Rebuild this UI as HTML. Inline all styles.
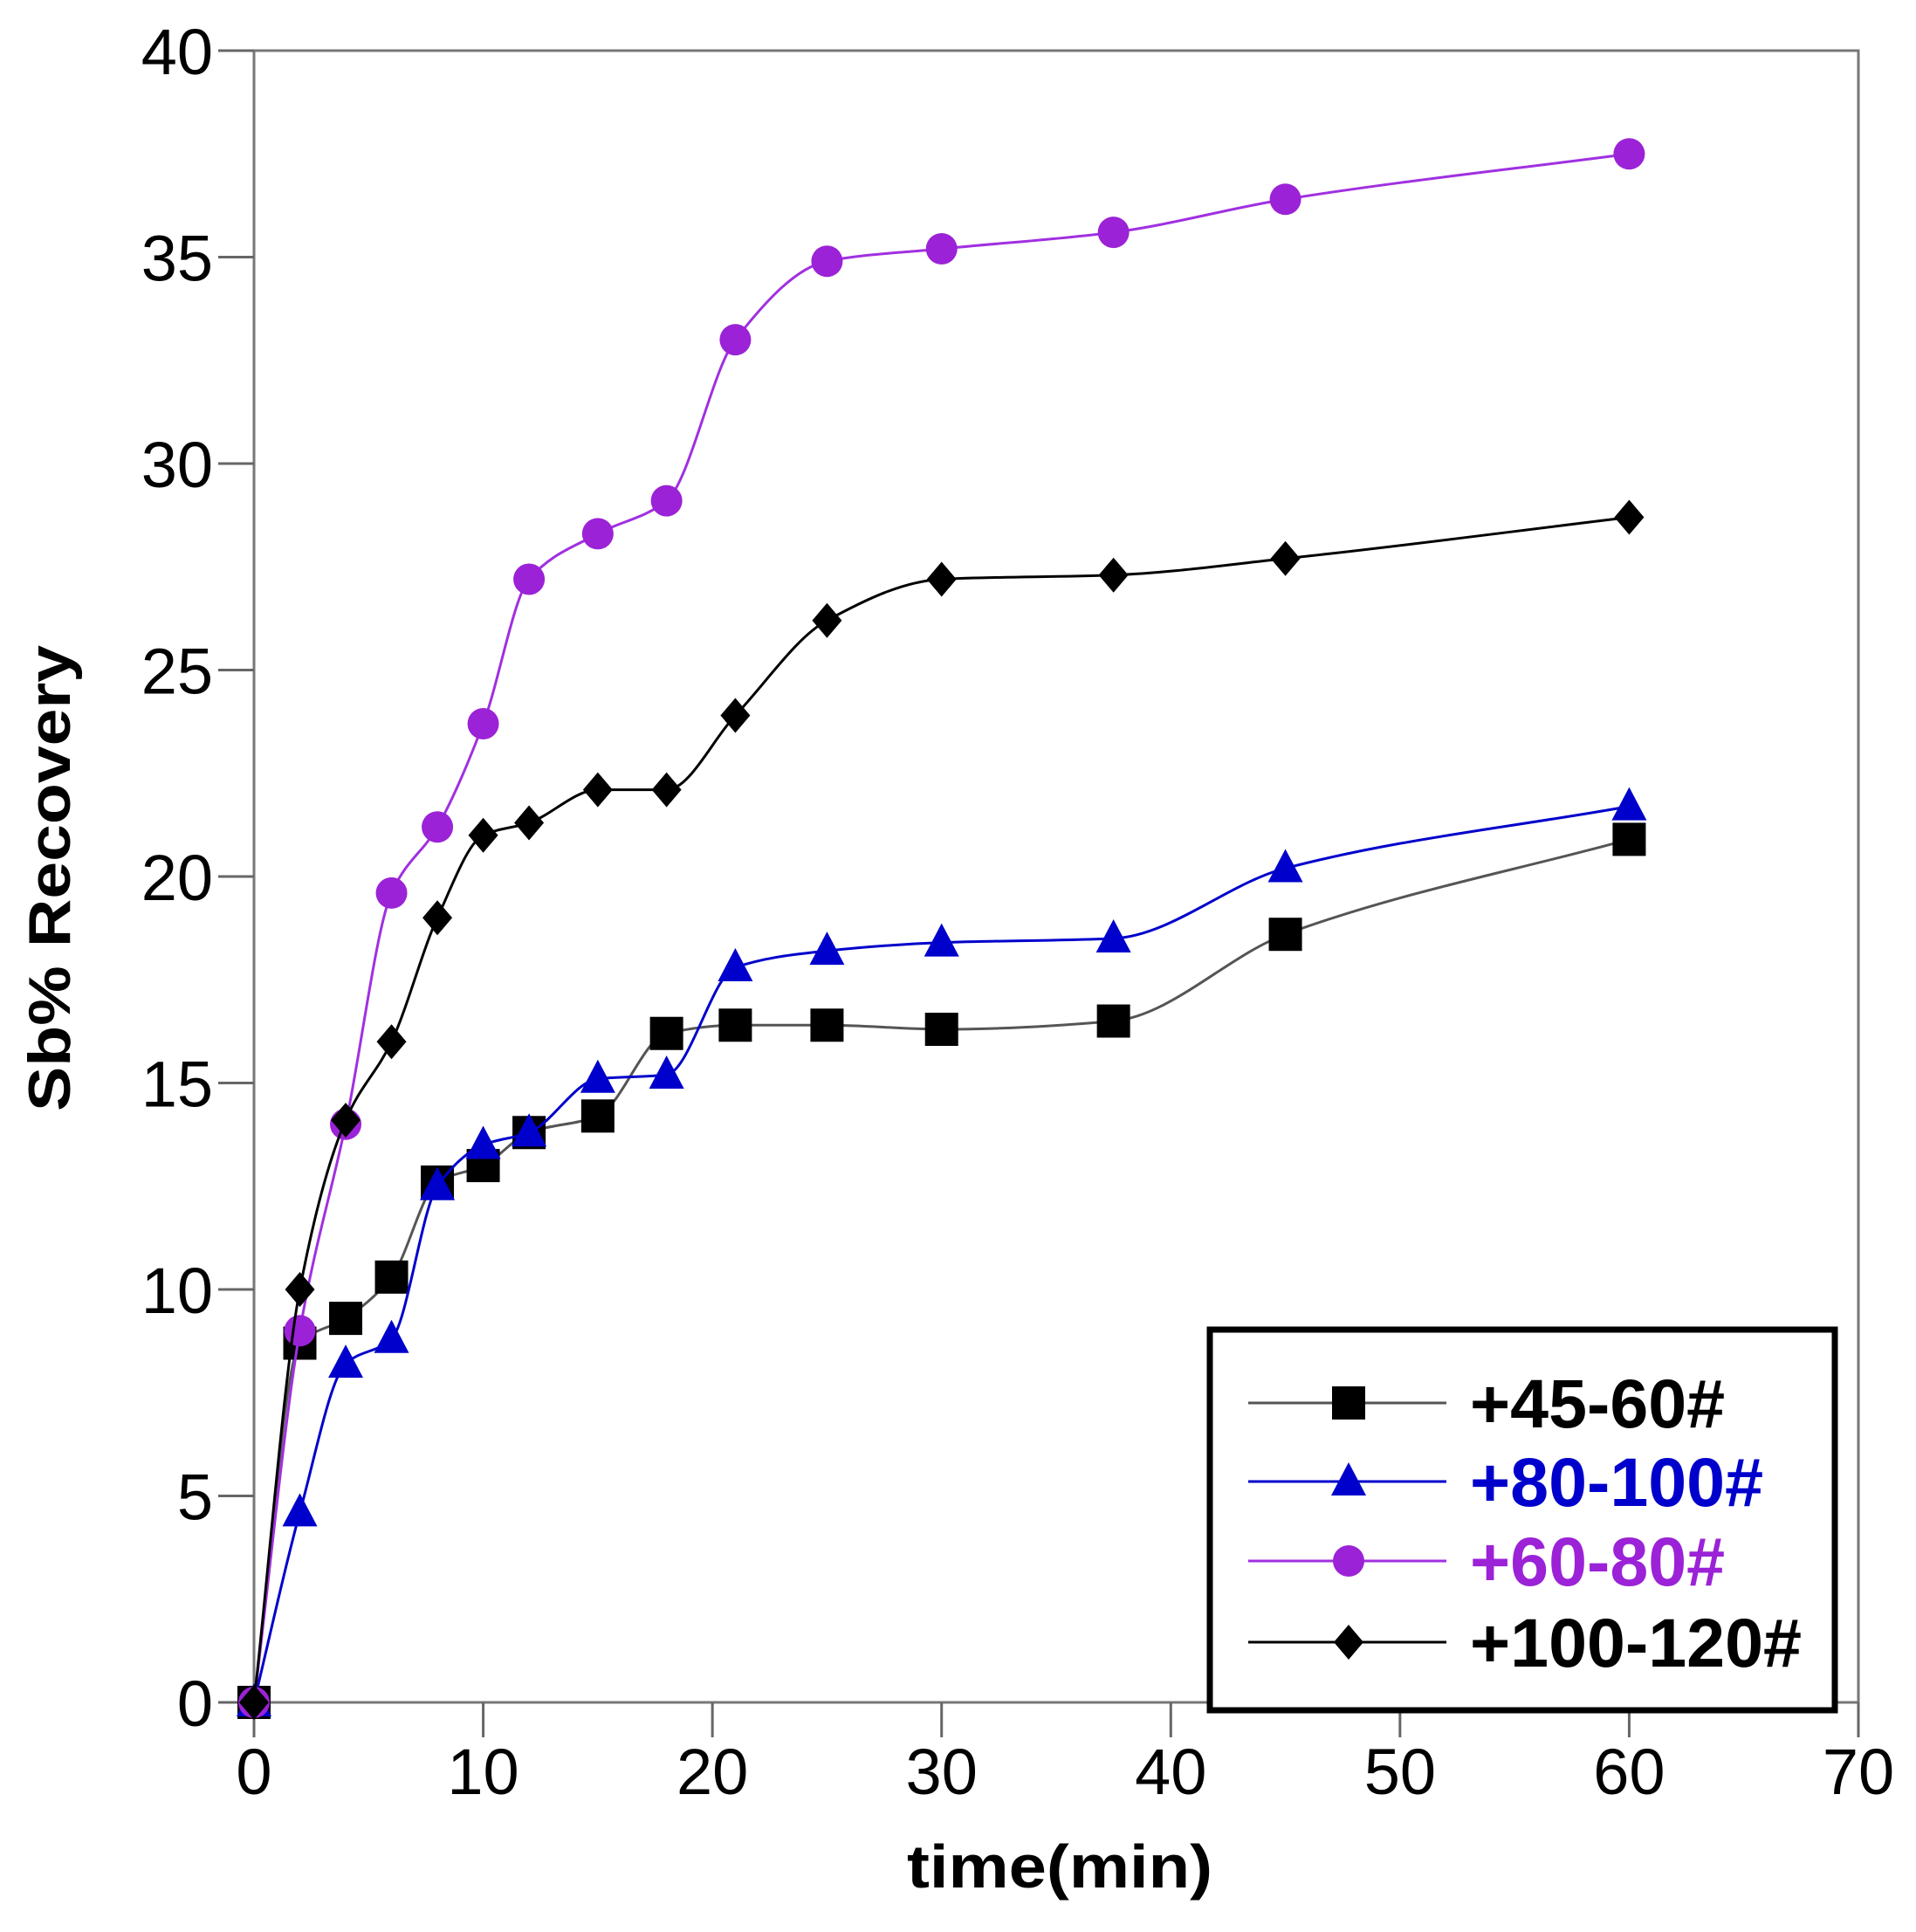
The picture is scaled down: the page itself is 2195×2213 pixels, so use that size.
<!DOCTYPE html>
<html><head><meta charset="utf-8"><style>
html,body{margin:0;padding:0;background:#fff;}
svg{display:block;}
text{font-family:"Liberation Sans",Arial,sans-serif;}
</style></head><body>
<svg id="chart" width="2195" height="2213" viewBox="0 0 2195 2213" xmlns="http://www.w3.org/2000/svg">
<rect x="0" y="0" width="2195" height="2213" fill="#fff"/>
<g id="axes"></g>
<g id="series"></g>
<text transform="translate(80,1006) rotate(-90)" text-anchor="middle" font-size="68" font-weight="bold" textLength="534" lengthAdjust="spacingAndGlyphs">Sb% Recovery</text>
<text x="1214" y="2162" text-anchor="middle" font-size="70" font-weight="bold" textLength="350" lengthAdjust="spacingAndGlyphs">time(min)</text>
<g id="legend"></g>
</svg>
<script>
const times = [0,2,4,6,8,10,12,15,18,21,25,30,37.5,45,60];
const s4560 = [0,8.7,9.3,10.3,12.6,13.0,13.8,14.2,16.2,16.4,16.4,16.3,16.5,18.6,20.9];
const s80100 = [0,4.6,8.2,8.8,12.5,13.5,13.8,15.1,15.2,17.8,18.2,18.4,18.5,20.2,21.7];
const s6080 = [0,9.0,14.0,19.6,21.2,23.7,27.2,28.3,29.1,33.0,34.9,35.2,35.6,36.4,37.5];
const s100120 = [0,10.0,14.1,16.0,19.0,21.0,21.3,22.1,22.1,23.9,26.2,27.2,27.3,27.7,28.7];
const xTicks = [0,10,20,30,40,50,60,70];
const yTicks = [0,5,10,15,20,25,30,35,40];
const seriesNames = ["+45-60#","+80-100#","+60-80#","+100-120#"];

const X0=291, X1=2129, Y0=1950, Y1=58;
const sx = v => X0 + (v-0)/(70-0)*(X1-X0);
const sy = v => Y0 - (v-0)/(40-0)*(Y0-Y1);
const NS="http://www.w3.org/2000/svg";
function mk(tag, attrs, parent){const e=document.createElementNS(NS,tag);for(const k in attrs)e.setAttribute(k,attrs[k]);parent.appendChild(e);return e;}

const axes=document.getElementById('axes');
let f=mk('rect',{x:X0,y:Y1,width:X1-X0,height:Y0-Y1,fill:'none',stroke:'#777',"stroke-width":3},axes);


xTicks.forEach(t=>{
  const l=mk('line',{x1:sx(t),x2:sx(t),y1:Y0,y2:Y0+40,stroke:'#666',"stroke-width":3},axes);
  
  
  const tx=mk('text',{x:sx(t),y:2055,"text-anchor":"middle","font-size":74,fill:'#000'},axes);
  tx.textContent=t;
  
  
});
yTicks.forEach(t=>{
  const l=mk('line',{x1:X0-41,x2:X0,y1:sy(t),y2:sy(t),stroke:'#666',"stroke-width":3},axes);
  
  
  const tx=mk('text',{x:244,y:sy(t)+27,"text-anchor":"end","font-size":74,fill:'#000'},axes);
  tx.textContent=t;
  
  
});

function smoothPath(xs, ys){
  // monotone cubic (Fritsch-Carlson) in pixel space
  const px=xs.map(sx), py=ys.map(sy), n=px.length;
  const d=[],m=new Array(n);
  for(let i=0;i<n-1;i++) d.push((py[i+1]-py[i])/(px[i+1]-px[i]));
  m[0]=d[0]; m[n-1]=d[n-2];
  for(let i=1;i<n-1;i++){
    if(d[i-1]*d[i]<=0) m[i]=0;
    else { const h0=px[i]-px[i-1],h1=px[i+1]-px[i];
      const w1=2*h1+h0,w2=h1+2*h0; m[i]=(w1+w2)/(w1/d[i-1]+w2/d[i]); }
  }
  let s=`M${px[0]},${py[0]}`;
  for(let i=0;i<n-1;i++){
    const h=(px[i+1]-px[i])/3;
    s+=` C${px[i]+h},${py[i]+m[i]*h} ${px[i+1]-h},${py[i+1]-m[i+1]*h} ${px[i+1]},${py[i+1]}`;
  }
  return s;
}
function marker(type,cx,cy,color,parent){
  let e;
  if(type==='square') e=mk('rect',{x:cx-19,y:cy-19,width:38,height:38,fill:color},parent);
  else if(type==='triangle') e=mk('polygon',{points:`${cx},${cy-22} ${cx+20},${cy+16} ${cx-20},${cy+16}`,fill:color},parent);
  else if(type==='circle') e=mk('circle',{cx:cx,cy:cy,r:18,fill:color},parent);
  else e=mk('polygon',{points:`${cx},${cy-20} ${cx+17},${cy} ${cx},${cy+20} ${cx-17},${cy}`,fill:color},parent);
  return e;
}
const defs=[
 {vals:s4560,line:'#555',mc:'#000',m:'square',tc:'#000'},
 {vals:s80100,line:'#0000cc',mc:'#0000cc',m:'triangle',tc:'#0000cc'},
 {vals:s6080,line:'#a030e0',mc:'#9b22d6',m:'circle',tc:'#9b22d6'},
 {vals:s100120,line:'#000',mc:'#000',m:'diamond',tc:'#000'}
];
const sg=document.getElementById('series');
defs.forEach((d,i)=>{
  const g=mk('g',{},sg);
  
  
  const p=mk('path',{d:smoothPath(times,d.vals),fill:'none',stroke:d.line,"stroke-width":3},g);
  
  
  d.vals.forEach((v,j)=>{
    const m=marker(d.m,sx(times[j]),sy(v),d.mc,g);
    
    
  });
});

const lg=document.getElementById('legend');
const box=mk('rect',{x:1386,y:1523,width:716,height:436,fill:'#fff',stroke:'#000',"stroke-width":7},lg);


const rowY=[1607,1697,1788,1881];
defs.forEach((d,i)=>{
  const g=mk('g',{},lg);
  
  
  mk('line',{x1:1430,x2:1657,y1:rowY[i],y2:rowY[i],stroke:d.line,"stroke-width":3},g);
  marker(d.m,1545,rowY[i],d.mc,g);
  const t=mk('text',{x:1684,y:rowY[i]+28,"font-size":79,"font-weight":"bold",fill:d.tc},g);
  t.textContent=seriesNames[i];
});
</script>
</body></html>
